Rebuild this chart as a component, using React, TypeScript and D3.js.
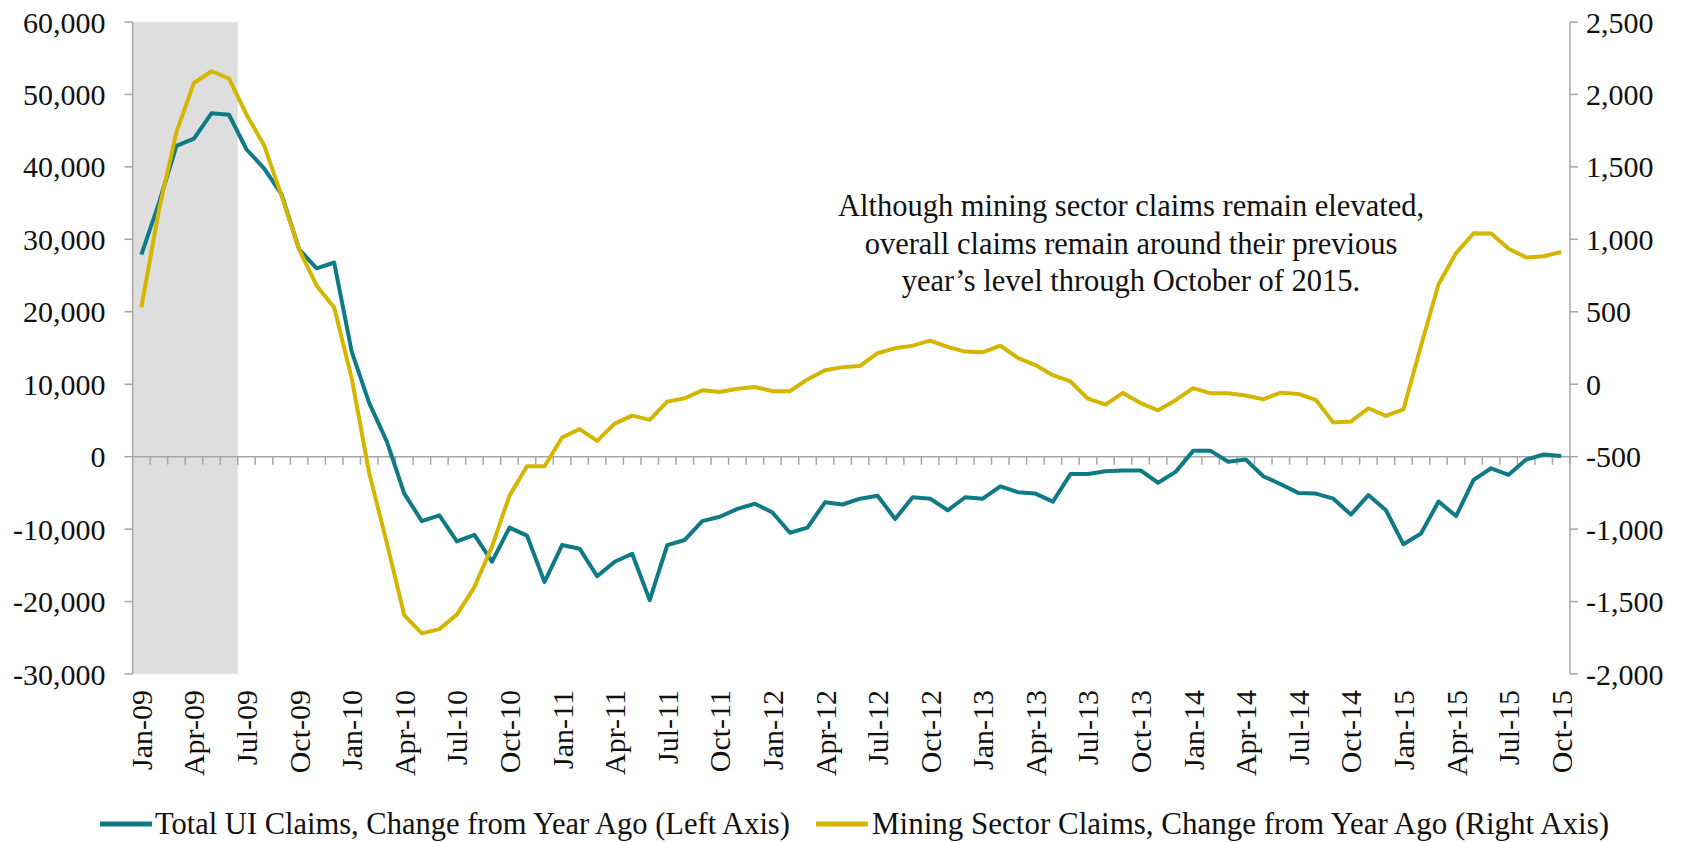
import React from 'react';
import * as d3 from 'd3';

// monthly categories, Jan-09 .. Oct-15
const months = d3.timeMonths(new Date(2009, 0, 1), new Date(2015, 10, 1));

// total UI claims, change from year ago (left axis)
const totalClaims = [
  27900, 35000, 42900, 43900, 47400, 47200, 42400, 39800, 36200, 28600,
  26000, 26800, 14500, 7400, 2100, -5100, -8900, -8100, -11700, -10800,
  -14500, -9800, -10900, -17300, -12200, -12700, -16500, -14500, -13400, -19800,
  -12200, -11500, -8900, -8300, -7200, -6500, -7700, -10500, -9800, -6300,
  -6600, -5800, -5400, -8600, -5600, -5800, -7400, -5600, -5800, -4100,
  -4900, -5100, -6200, -2400, -2400, -2000, -1900, -1900, -3600, -2100,
  800, 800, -700, -400, -2700, -3800, -5000, -5100, -5800, -8000,
  -5300, -7400, -12100, -10600, -6200, -8200, -3200, -1600, -2500, -400,
  300, 100,
];

// mining sector claims, change from year ago (right axis)
const miningClaims = [
  530, 1200, 1740, 2080, 2160, 2110, 1860, 1650, 1300, 930,
  680, 530, 40, -615, -1095, -1595, -1720, -1690, -1590, -1400,
  -1120, -770, -566, -566, -368, -310, -391, -272, -217, -246,
  -120, -97, -42, -54, -31, -19, -48, -48, 33, 97,
  118, 126, 214, 249, 266, 301, 257, 225, 220, 266,
  182, 132, 62, 19, -100, -141, -60, -130, -180, -110,
  -27, -63, -62, -78, -104, -58, -67, -108, -265, -258,
  -166, -219, -173, 265, 690, 905, 1042, 1040, 935, 875,
  883, 913,
];

const leftTicks = [-30000, -20000, -10000, 0, 10000, 20000, 30000, 40000, 50000, 60000];
const rightTicks = [-2000, -1500, -1000, -500, 0, 500, 1000, 1500, 2000, 2500];
const recession = [new Date(2009, 0, 1), new Date(2009, 5, 1)];

const note = [
  'Although mining sector claims remain elevated,',
  'overall claims remain around their previous',
  'year\u2019s level through October of 2015.',
];
const seriesNames = [
  'Total UI Claims, Change from Year Ago (Left Axis)',
  'Mining Sector Claims, Change from Year Ago (Right Axis)',
];

const TEAL = '#0e7a85';
const GOLD = '#d4b600';
const AXIS = '#a6a6a6';
const FONT = '"Liberation Serif", "Times New Roman", serif';

const W = 1691;
const H = 842;
const plot = { left: 132.6, right: 1570, top: 22, bottom: 674 };

const fmt = d3.formatLocale({
  decimal: '.',
  thousands: ',',
  grouping: [3],
  currency: ['$', ''],
  minus: '-',
}).format(',');
const monthFmt = d3.timeFormat('%b-%y');

export default function App() {
  const x = d3
    .scaleBand<Date>()
    .domain(months)
    .range([plot.left, plot.right]);
  const yL = d3.scaleLinear().domain([-30000, 60000]).range([plot.bottom, plot.top]);
  const yR = d3.scaleLinear().domain([-2000, 2500]).range([plot.bottom, plot.top]);
  const cx = (d: Date) => (x(d) as number) + x.bandwidth() / 2;

  const lineL = d3
    .line<number>()
    .x((_, i) => cx(months[i]))
    .y((d) => yL(d));
  const lineR = d3
    .line<number>()
    .x((_, i) => cx(months[i]))
    .y((d) => yR(d));

  const zeroY = yL(0);
  const shadeX0 = x(recession[0]) as number;
  const shadeX1 = (x(recession[1]) as number) + x.bandwidth();

  return (
    <div style={{ position: 'absolute', left: 0, top: 0 }}>
      <svg width={W} height={H} style={{ display: 'block', background: '#fff' }} fontFamily={FONT}>
        <rect x={shadeX0} y={plot.top} width={shadeX1 - shadeX0} height={plot.bottom - plot.top} fill="#dedede" />

        {/* left axis */}
        <line x1={plot.left} x2={plot.left} y1={plot.top} y2={plot.bottom} stroke={AXIS} strokeWidth={1.5} />
        {leftTicks.map((t) => (
          <g key={'l' + t}>
            <line x1={plot.left - 8} x2={plot.left} y1={yL(t)} y2={yL(t)} stroke={AXIS} strokeWidth={1.5} />
            <text x={plot.left - 27} y={yL(t)} dy="0.35em" textAnchor="end" fontSize={30} fill="#111">
              {fmt(t)}
            </text>
          </g>
        ))}

        {/* right axis */}
        <line x1={plot.right} x2={plot.right} y1={plot.top} y2={plot.bottom} stroke={AXIS} strokeWidth={1.5} />
        {rightTicks.map((t) => (
          <g key={'r' + t}>
            <line x1={plot.right} x2={plot.right + 8} y1={yR(t)} y2={yR(t)} stroke={AXIS} strokeWidth={1.5} />
            <text x={plot.right + 16} y={yR(t)} dy="0.35em" textAnchor="start" fontSize={30} fill="#111">
              {fmt(t)}
            </text>
          </g>
        ))}

        {/* category axis on zero line */}
        <line x1={plot.left} x2={plot.right} y1={zeroY} y2={zeroY} stroke={AXIS} strokeWidth={1.5} />
        {months.map((m) => (
          <line
            key={'t' + m.getTime()}
            x1={(x(m) as number) + x.bandwidth()}
            x2={(x(m) as number) + x.bandwidth()}
            y1={zeroY}
            y2={zeroY + 8}
            stroke={AXIS}
            strokeWidth={1.5}
          />
        ))}
        {months
          .filter((_, i) => i % 3 === 0)
          .map((m) => (
            <text
              key={'x' + m.getTime()}
              transform={`translate(${cx(m)},${plot.bottom + 16}) rotate(-90)`}
              dy="0.35em"
              textAnchor="end"
              fontSize={30}
              fill="#111"
            >
              {monthFmt(m)}
            </text>
          ))}

        <path d={lineL(totalClaims) as string} fill="none" stroke={TEAL} strokeWidth={4} strokeLinejoin="round" />
        <path d={lineR(miningClaims) as string} fill="none" stroke={GOLD} strokeWidth={4} strokeLinejoin="round" />

        {note.map((s, i) => (
          <text key={'n' + i} x={1131} y={216 + i * 37.5} textAnchor="middle" fontSize={30.5} fill="#111">
            {s}
          </text>
        ))}

        {/* legend */}
        <line x1={100} x2={152} y1={824} y2={824} stroke={TEAL} strokeWidth={5} />
        <text x={155} y={834} fontSize={30.5} fill="#111">{seriesNames[0]}</text>
        <line x1={816} x2={868} y1={824} y2={824} stroke={GOLD} strokeWidth={5} />
        <text x={872} y={834} fontSize={31} fill="#111">{seriesNames[1]}</text>
      </svg>
    </div>
  );
}
